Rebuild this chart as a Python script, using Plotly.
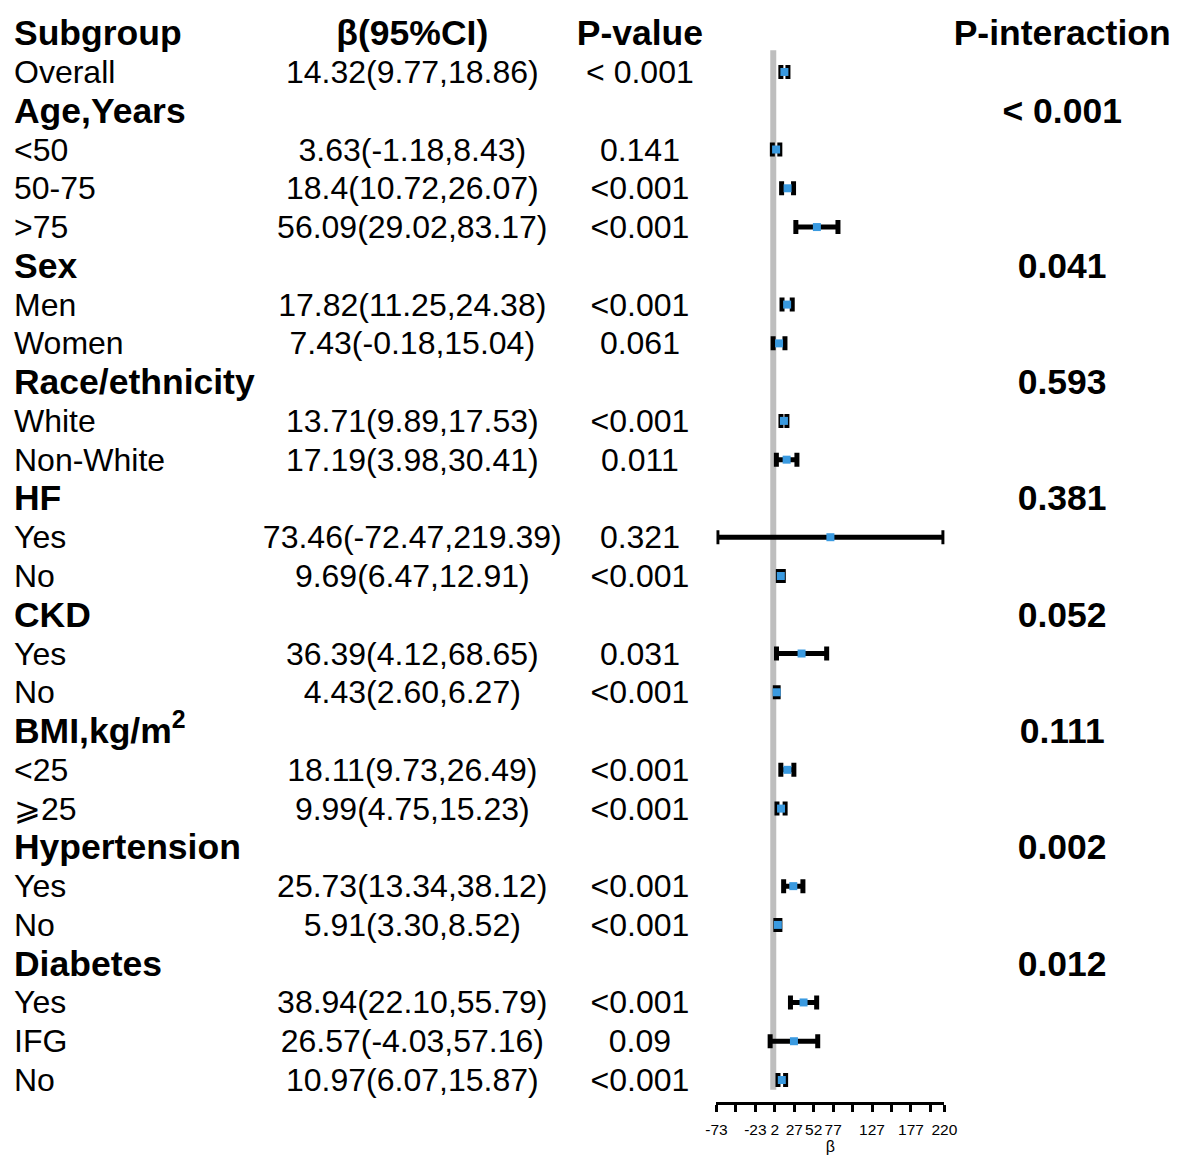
import plotly.graph_objects as go

# ---------------- data ----------------
labels = ["Subgroup", "Overall", "Age,Years", "<50", "50-75", ">75", "Sex", "Men", "Women",
          "Race/ethnicity", "White", "Non-White", "HF", "Yes", "No", "CKD", "Yes", "No",
          "BMI,kg/m<sup>2</sup>", "<25", "⩾25", "Hypertension", "Yes", "No", "Diabetes",
          "Yes", "IFG", "No"]
is_header = [True, False, True, False, False, False, True, False, False,
             True, False, False, True, False, False, True, False, False,
             True, False, False, True, False, False, True,
             False, False, False]
beta = [None, 14.32, None, 3.63, 18.4, 56.09, None, 17.82, 7.43,
        None, 13.71, 17.19, None, 73.46, 9.69, None, 36.39, 4.43,
        None, 18.11, 9.99, None, 25.73, 5.91, None,
        38.94, 26.57, 10.97]
lower = [None, 9.77, None, -1.18, 10.72, 29.02, None, 11.25, -0.18,
         None, 9.89, 3.98, None, -72.47, 6.47, None, 4.12, 2.60,
         None, 9.73, 4.75, None, 13.34, 3.30, None,
         22.10, -4.03, 6.07]
upper = [None, 18.86, None, 8.43, 26.07, 83.17, None, 24.38, 15.04,
         None, 17.53, 30.41, None, 219.39, 12.91, None, 68.65, 6.27,
         None, 26.49, 15.23, None, 38.12, 8.52, None,
         55.79, 57.16, 15.87]
ci_text = ["", "14.32(9.77,18.86)", "", "3.63(-1.18,8.43)", "18.4(10.72,26.07)", "56.09(29.02,83.17)",
           "", "17.82(11.25,24.38)", "7.43(-0.18,15.04)", "", "13.71(9.89,17.53)", "17.19(3.98,30.41)",
           "", "73.46(-72.47,219.39)", "9.69(6.47,12.91)", "", "36.39(4.12,68.65)", "4.43(2.60,6.27)",
           "", "18.11(9.73,26.49)", "9.99(4.75,15.23)", "", "25.73(13.34,38.12)", "5.91(3.30,8.52)",
           "", "38.94(22.10,55.79)", "26.57(-4.03,57.16)", "10.97(6.07,15.87)"]
p_value = ["", "< 0.001", "", "0.141", "<0.001", "<0.001", "", "<0.001", "0.061",
           "", "<0.001", "0.011", "", "0.321", "<0.001", "", "0.031", "<0.001",
           "", "<0.001", "<0.001", "", "<0.001", "<0.001", "",
           "<0.001", "0.09", "<0.001"]
p_interaction = ["", "", "< 0.001", "", "", "", "0.041", "", "",
                 "0.593", "", "", "0.381", "", "", "0.052", "", "",
                 "0.111", "", "", "0.002", "", "", "0.012",
                 "", "", ""]
headers = ["β(95%CI)", "P-value", "P-interaction"]
tick_vals = [-73, -48, -23, 2, 27, 52, 77, 102, 127, 152, 177, 202, 220]
tick_text = ["-73", "", "-23", "2", "27", "52", "77", "", "127", "", "177", "", "220"]

# ---------------- figure ----------------
W, H = 1188, 1157
ML, MR = 10, 12                    # explicit horizontal margins
PW = W - ML - MR                   # plot area width in px
rows = list(range(len(labels)))
FONT = "Liberation Sans, Arial, sans-serif"
BOLD_SIZE = 35.5
REG_SIZE = 32

def frac(px):
    return (px - ML) / PW

fig = go.Figure()

# forest plot marks
est_rows = [r for r in rows if beta[r] is not None]
fig.add_trace(go.Scatter(
    x=[beta[r] for r in est_rows], y=est_rows, mode="markers",
    marker=dict(symbol="square", size=8, color="#3A9AE0"),
    error_x=dict(type="data", symmetric=False,
                 array=[upper[r] - beta[r] for r in est_rows],
                 arrayminus=[beta[r] - lower[r] for r in est_rows],
                 color="black", thickness=5, width=7),
    cliponaxis=False, showlegend=False, hoverinfo="skip", xaxis="x", yaxis="y"))

# table text columns (xaxis2 in screen-pixel units)
COL_SUB, COL_CI, COL_P, COL_PI = 13, 412, 640, 1063

hdr_rows = [r for r in rows if is_header[r]]
reg_rows = [r for r in rows if not is_header[r]]

def text_trace(xs, ys, texts, size, pos):
    return go.Scatter(
        x=xs, y=ys, text=texts, mode="text", textposition=pos,
        textfont=dict(family=FONT, size=size, color="black"),
        cliponaxis=False, showlegend=False, hoverinfo="skip", xaxis="x2", yaxis="y2")

fig.add_trace(text_trace([COL_SUB] * len(hdr_rows), hdr_rows,
                         [f"<b>{labels[r]}</b>" for r in hdr_rows], BOLD_SIZE, "middle right"))
fig.add_trace(text_trace([COL_SUB] * len(reg_rows), reg_rows,
                         [labels[r] for r in reg_rows], REG_SIZE, "middle right"))
fig.add_trace(text_trace([COL_CI, COL_P, COL_PI], [0, 0, 0],
                         [f"<b>{h}</b>" for h in headers], BOLD_SIZE, "middle center"))
fig.add_trace(text_trace([COL_CI] * len(est_rows), est_rows,
                         [ci_text[r] for r in est_rows], REG_SIZE, "middle center"))
fig.add_trace(text_trace([COL_P] * len(est_rows), est_rows,
                         [p_value[r] for r in est_rows], REG_SIZE, "middle center"))
pi_rows = [r for r in rows if p_interaction[r]]
fig.add_trace(text_trace([COL_PI] * len(pi_rows), pi_rows,
                         [f"<b>{p_interaction[r]}</b>" for r in pi_rows], BOLD_SIZE, "middle center"))

# reference line at beta = 0
fig.add_shape(type="line", xref="x", yref="y", x0=0, x1=0, y0=0.44, y1=27.25,
              line=dict(color="#BEBEBE", width=6), layer="below")

SPACING = 38.77
TOP_ROW_PX = 33.2
BOTTOM = 55
plot_h = H - BOTTOM
y_top = -TOP_ROW_PX / SPACING
y_bot = (plot_h - TOP_ROW_PX) / SPACING
d = 3 / SPACING   # text sits 3px lower than marks

fig.update_layout(
    width=W, height=H,
    margin=dict(l=ML, r=MR, t=0, b=BOTTOM),
    paper_bgcolor="white", plot_bgcolor="rgba(0,0,0,0)",
    font=dict(family=FONT, color="black"),
    xaxis=dict(domain=[frac(716.7), frac(945.0)], range=[-73, 220], anchor="y",
               tickmode="array", tickvals=tick_vals, ticktext=tick_text,
               ticks="outside", ticklen=7, tickwidth=3, tickcolor="black",
               showline=True, linewidth=3, linecolor="black", showgrid=False, zeroline=False,
               tickfont=dict(size=15.5, color="black"), ticklabelstandoff=4,
               title=dict(text="β", font=dict(size=16, color="black"), standoff=4)),
    xaxis2=dict(domain=[0, 1], range=[ML, W - MR], anchor="y2",
                visible=False, showgrid=False, zeroline=False),
    yaxis=dict(domain=[0, 1], range=[y_bot, y_top], visible=False,
               showgrid=False, zeroline=False),
    yaxis2=dict(domain=[0, 1], range=[y_bot - d, y_top - d], visible=False, overlaying="y",
                showgrid=False, zeroline=False),
)

fig.write_html("out.html", config={"displayModeBar": False},
               post_script="document.body.style.margin='0';document.body.style.overflow='hidden';")
